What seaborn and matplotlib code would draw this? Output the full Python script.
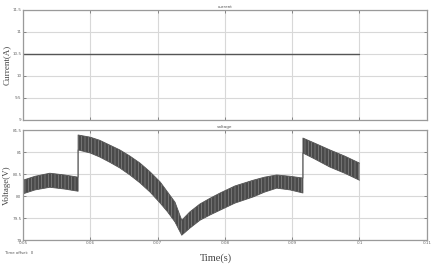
import numpy as np
import pandas as pd
import matplotlib
matplotlib.use("Agg")
import matplotlib.pyplot as plt
import seaborn as sns

# ---- data ----
current_t = [0.05, 0.10]
current_v = [10.5, 10.5]

volt_t = [0.0500, 0.0518, 0.0540, 0.0562, 0.0582,
          0.0582, 0.0600, 0.0614, 0.0629, 0.0644, 0.0659, 0.0674, 0.0689, 0.0704, 0.0715, 0.0726, 0.0736,
          0.0748, 0.0763, 0.0778, 0.0793, 0.0815, 0.0842, 0.0859, 0.0877, 0.0897, 0.0916,
          0.0916, 0.0934, 0.0956, 0.0978, 0.1000]
volt_upper = [80.36, 80.45, 80.52, 80.48, 80.43,
              81.39, 81.34, 81.27, 81.16, 81.05, 80.91, 80.75, 80.55, 80.32, 80.09, 79.86, 79.45,
              79.64, 79.82, 79.95, 80.07, 80.23, 80.36, 80.43, 80.48, 80.45, 80.41,
              81.32, 81.20, 81.05, 80.91, 80.75]
volt_lower = [80.05, 80.14, 80.20, 80.16, 80.11,
              81.05, 80.98, 80.89, 80.77, 80.64, 80.48, 80.30, 80.09, 79.84, 79.64, 79.41, 79.11,
              79.27, 79.45, 79.57, 79.68, 79.84, 79.98, 80.09, 80.18, 80.14, 80.07,
              80.98, 80.84, 80.66, 80.52, 80.36]

x_ticks = [0.05, 0.06, 0.07, 0.08, 0.09, 0.10, 0.11]
x_labels = ["0.05", "0.06", "0.07", "0.08", "0.09", "0.1", "0.11"]
cur_ticks = [9, 9.5, 10, 10.5, 11, 11.5]
cur_labels = ["9", "9.5", "10", "10.5", "11", "11.5"]
volt_ticks = [79, 79.5, 80, 80.5, 81, 81.5]
volt_labels = ["79", "79.5", "80", "80.5", "81", "81.5"]

sns.set_theme(style="whitegrid")
plt.rcParams["font.family"] = ["DejaVu Sans"]
plt.rcParams["hatch.linewidth"] = 0.5

fig = plt.figure(figsize=(4.4, 2.7), dpi=100)
ax1 = fig.add_axes([0.052, 0.556, 0.918, 0.407])
ax2 = fig.add_axes([0.052, 0.111, 0.918, 0.407])

def style(ax):
    ax.set_facecolor("white")
    ax.grid(True, color="#d8d8d8", lw=0.8)
    for s in ax.spines.values():
        s.set_color("#9a9a9a")
        s.set_linewidth(0.9)
    ax.tick_params(direction="in", length=2, width=0.6, color="#777",
                   labelsize=3, labelcolor="#666", pad=1,
                   right=True, top=True, left=True, bottom=True)
    ax.set_xlim(0.05, 0.11)
    ax.set_xticks(x_ticks)

style(ax1)
style(ax2)

df_c = pd.DataFrame({"t": current_t, "i": current_v})
sns.lineplot(data=df_c, x="t", y="i", ax=ax1, color="#555555", lw=1.0,
             estimator=None, sort=False)
ax1.set_ylim(9, 11.5)
ax1.set_yticks(cur_ticks)
ax1.set_yticklabels(cur_labels)
ax1.set_xticklabels([])
ax1.set_xlabel("")
ax1.set_ylabel("Current(A)", family="Liberation Serif", fontsize=6.5, color="#444")
ax1.yaxis.set_label_coords(-0.03, 0.5)
ax1.set_title("current", fontsize=3, color="#555", pad=1.5)

df_v = pd.DataFrame({"t": volt_t, "upper": volt_upper, "lower": volt_lower})
ax2.fill_between(df_v["t"], df_v["lower"], df_v["upper"], facecolor="#4a4a4a",
                 edgecolor="none", lw=0)
ax2.fill_between(df_v["t"], df_v["lower"], df_v["upper"], facecolor="none",
                 edgecolor="#878787", hatch="|||||", lw=0)
sns.lineplot(data=df_v, x="t", y="upper", ax=ax2, color="#555555", lw=0.6,
             estimator=None, sort=False)
sns.lineplot(data=df_v, x="t", y="lower", ax=ax2, color="#555555", lw=0.6,
             estimator=None, sort=False)
ax2.set_ylim(79, 81.5)
ax2.set_yticks(volt_ticks)
ax2.set_yticklabels(volt_labels)
ax2.set_xticklabels(x_labels)
ax2.set_xlabel("")
ax2.set_ylabel("Voltage(V)", family="Liberation Serif", fontsize=6.5, color="#444")
ax2.yaxis.set_label_coords(-0.03, 0.5)
ax2.set_title("voltage", fontsize=3, color="#555", pad=1.5)

fig.text(0.49, 0.035, "Time(s)", family="Liberation Serif", fontsize=7.5, color="#444", ha="center")
fig.text(0.012, 0.058, "Time offset:  0", fontsize=2.8, color="#555")

fig.savefig("out.png", dpi=100)
